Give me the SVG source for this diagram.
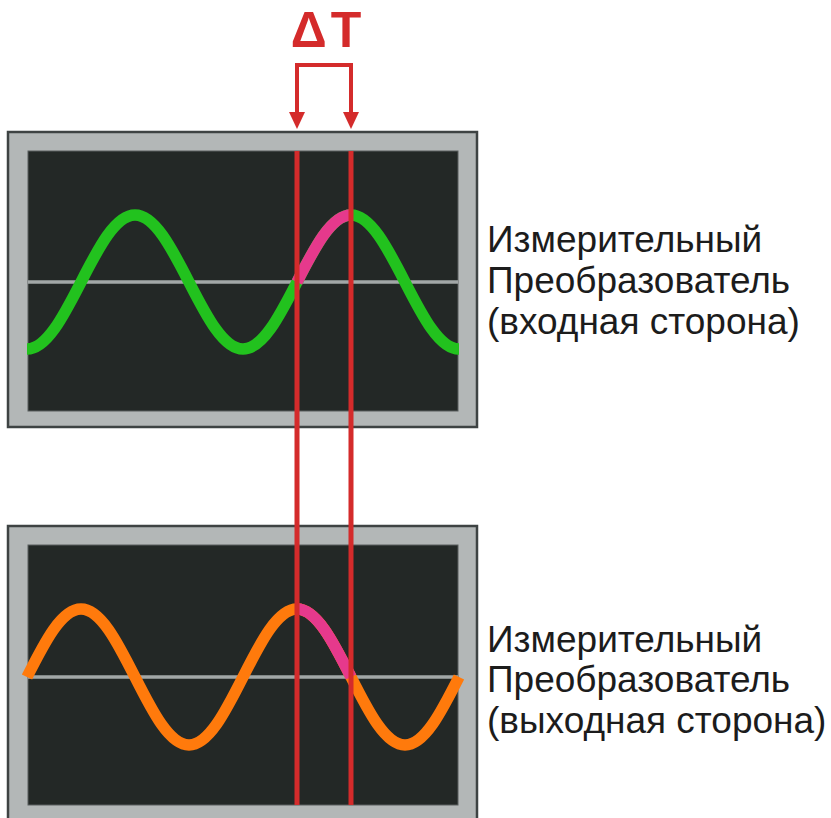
<svg xmlns="http://www.w3.org/2000/svg" width="831" height="818" viewBox="0 0 831 818">
  <style>
    .frame { fill: #b3b7b7; stroke: #3e4343; stroke-width: 2.5; }
    .screen { fill: #232826; stroke: #5a5f5f; stroke-width: 1; }
    .axis { stroke: #a2a7a7; stroke-width: 3.5; fill: none; }
    .wave { fill: none; stroke-width: 11.5; stroke-linecap: butt; stroke-linejoin: round; }
    .green { stroke: #22c21e; }
    .orange { stroke: #ff7a0c; }
    .pink { stroke: #e6398c; }
    .marker-line { stroke: #d42b2b; stroke-width: 5; fill: none; }
    .bracket { stroke: #d42b2b; stroke-width: 4; fill: none; }
    .head { fill: #d42b2b; }
    .label { font-family: "Liberation Sans", Arial, sans-serif; font-size: 37px; fill: #1c1c1c; }
    .dt { font-family: "Liberation Sans", Arial, sans-serif; font-size: 50px; font-weight: bold; fill: #d42b2b; letter-spacing: 4px; }
  </style>
  <rect width="831" height="818" fill="#ffffff"/>

  <g id="scope-input">
    <rect class="frame" x="8" y="132" width="469" height="295"/>
    <rect class="screen" x="28" y="151" width="430" height="260"/>
    <line class="axis" x1="28" y1="282" x2="458" y2="282"/>
    <path class="wave green" d="M27,349 C46.54,349 63.39,316.32 81,282 C98.61,247.68 115.46,215 135,215 C154.54,215 171.39,247.68 189,282 C206.61,316.32 223.46,349 243,349 C262.54,349 279.39,316.32 297,282 C314.61,247.68 331.46,215 351,215 C370.54,215 387.39,247.68 405,282 C422.61,316.32 439.46,349 459,349"/>
    <path class="wave pink" d="M297,282 C314.61,247.68 331.46,215 351,215"/>
  </g>

  <g id="scope-output">
    <rect class="frame" x="8" y="526" width="469" height="296"/>
    <rect class="screen" x="28" y="545" width="430" height="260"/>
    <line class="axis" x1="28" y1="677" x2="458" y2="677"/>
    <path class="wave orange" d="M27,677 C44.61,642.16 61.46,609 81,609 C100.54,609 117.39,642.16 135,677 C152.61,711.84 169.46,745 189,745 C208.54,745 225.39,711.84 243,677 C260.61,642.16 277.46,609 297,609 C316.54,609 333.39,642.16 351,677 C368.61,711.84 385.46,745 405,745 C424.54,745 441.39,711.84 459,677"/>
    <path class="wave pink" d="M297,609 C316.54,609 333.39,642.16 351,677"/>
  </g>

  <g id="connectors">
    <line class="marker-line" x1="297" y1="151" x2="297" y2="805"/>
    <line class="marker-line" x1="351" y1="151" x2="351" y2="805"/>
    <path class="bracket" d="M297,114 V65 H351 V114"/>
    <polygon class="head" points="289,112 305,112 297,129"/>
    <polygon class="head" points="343,112 359,112 351,129"/>
  </g>

  <g id="delta-t">
    <text class="dt" x="328" y="47" text-anchor="middle">ΔT</text>
  </g>

  <g id="label-input">
    <text class="label" x="487" y="252">Измерительный</text>
    <text class="label" x="487" y="293">Преобразователь</text>
    <text class="label" x="487" y="334">(входная сторона)</text>
  </g>

  <g id="label-output">
    <text class="label" x="487" y="652">Измерительный</text>
    <text class="label" x="487" y="692">Преобразователь</text>
    <text class="label" x="487" y="733">(выходная сторона)</text>
  </g>
</svg>
